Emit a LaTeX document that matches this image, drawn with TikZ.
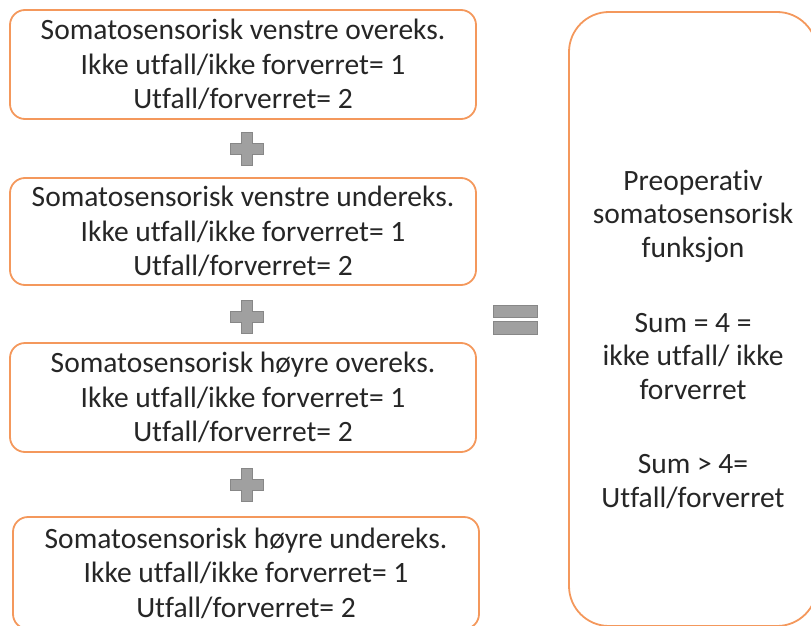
\documentclass[tikz,border=0pt]{standalone}
\usepackage{fontspec}
\setmainfont[Ligatures=NoCommon]{Carlito}
\usetikzlibrary{calc}
\definecolor{boxorange}{RGB}{244,152,92}
\definecolor{opgray}{RGB}{160,160,160}
\definecolor{opedge}{RGB}{135,135,135}
\tikzset{
  termbox/.style={draw=boxorange, line width=1.8pt, rounded corners=15pt, fill=white,
    minimum width=466pt, align=center, inner sep=0pt,
    font=\fontsize{29.5}{34.5}\selectfont, text=black!85},
  resultbox/.style={draw=boxorange, line width=1.8pt, rounded corners=40pt, fill=white,
    minimum width=248pt, minimum height=614pt, inner sep=0pt},
  resulttext/.style={align=center, inner sep=0pt,
    font=\fontsize{29.5}{33.5}\selectfont, text=black!85},
  opsign/.style={fill=opgray, draw=opedge, line width=1pt}
}
% a plus sign centred at #1
\newcommand{\plusmark}[1]{%
  \draw[opsign] ($#1+(-5.5,-16.5)$) -- ++(11,0) -- ++(0,11) -- ++(11,0) -- ++(0,11)
    -- ++(-11,0) -- ++(0,11) -- ++(-11,0) -- ++(0,-11) -- ++(-11,0) -- ++(0,-11)
    -- ++(11,0) -- cycle;}
\begin{document}
\begin{tikzpicture}[x=1pt,y=-1pt]
\useasboundingbox (0,0) rectangle (811,626);
\begin{scope}
\clip (0,0) rectangle (811,626);
\node[termbox, minimum height=109pt] (t1) at (243,64.5)
  {Somatosensorisk venstre overeks.\\Ikke utfall/ikke forverret= 1\\Utfall/forverret= 2};
\node[termbox, minimum height=107pt] (t2) at (243,231.5)
  {Somatosensorisk venstre undereks.\\Ikke utfall/ikke forverret= 1\\Utfall/forverret= 2};
\node[termbox, minimum height=109pt] (t3) at (243,397.5)
  {Somatosensorisk høyre overeks.\\Ikke utfall/ikke forverret= 1\\Utfall/forverret= 2};
\node[termbox, minimum height=112pt] (t4) at (246,573)
  {Somatosensorisk høyre undereks.\\Ikke utfall/ikke forverret= 1\\Utfall/forverret= 2};
\node[resultbox] (res) at (693,319) {};
\node[resulttext] (restext) at (693,339)
  {Preoperativ\\somatosensorisk\\funksjon\\[41.5pt]Sum = 4 =\\ikke utfall/ ikke\\forverret\\[41pt]Sum > 4=\\Utfall/forverret};
\end{scope}
\plusmark{(247,148.5)}
\plusmark{(247,316.5)}
\plusmark{(247,484.5)}
% equals sign
\draw[opsign] (493,305) rectangle (537,317);
\draw[opsign] (493,321) rectangle (537,334);
\end{tikzpicture}
\end{document}
